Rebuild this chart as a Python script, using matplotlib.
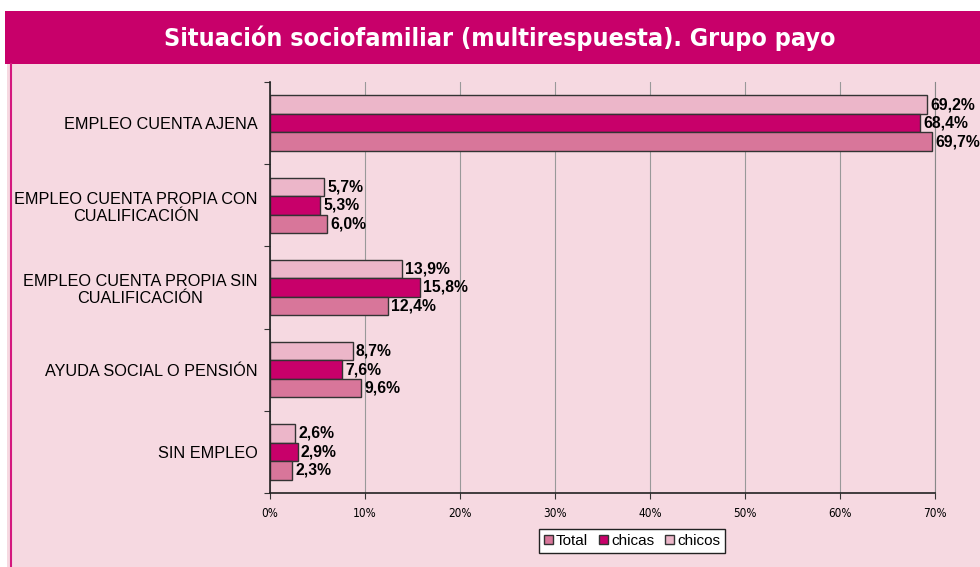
import numpy as np
import matplotlib.pyplot as plt
from matplotlib.patches import Rectangle

# datos
categorias = ['EMPLEO CUENTA AJENA',
              'EMPLEO CUENTA PROPIA CON\nCUALIFICACIÓN',
              'EMPLEO CUENTA PROPIA SIN\nCUALIFICACIÓN',
              'AYUDA SOCIAL O PENSIÓN',
              'SIN EMPLEO']
total = [69.7, 6.0, 12.4, 9.6, 2.3]
chicas = [68.4, 5.3, 15.8, 7.6, 2.9]
chicos = [69.2, 5.7, 13.9, 8.7, 2.6]

c_total = '#D8769A'
c_chicas = '#C8006A'
c_chicos = '#ECB6C9'
fondo = '#F6D9E1'

fig = plt.figure(figsize=(9.8, 5.67), dpi=100)
fig.patch.set_facecolor('white')

# fondo rosa y banda del titulo
fig.patches.append(Rectangle((0.007, 0), 0.993, 1 - 64/567, transform=fig.transFigure,
                             facecolor=fondo, edgecolor='none', zorder=-2))
fig.patches.append(Rectangle((0.005, 1 - 64/567), 0.995, 53/567, transform=fig.transFigure,
                             facecolor='#C8006A', edgecolor='none', zorder=-2))
fig.lines.append(plt.Line2D([0.011, 0.011], [0, 1 - 64/567], transform=fig.transFigure,
                            color='#D4187E', lw=1.5, zorder=-1))
fig.text(0.51, 1 - 38/567, 'Situación sociofamiliar (multirespuesta). Grupo payo',
         ha='center', va='center', color='white', fontsize=18, fontweight='bold',
         family='DejaVu Sans', fontstretch='condensed')

ax = fig.add_axes([270/980, 1 - 493/567, 665/980, 411/567])
ax.set_facecolor(fondo)

n = len(categorias)
y = np.arange(n)[::-1].astype(float)
h = 0.225
bars_chicos = ax.barh(y + h, chicos, h, color=c_chicos, edgecolor='#333333', lw=1, label='chicos')
bars_chicas = ax.barh(y, chicas, h, color=c_chicas, edgecolor='#333333', lw=1, label='chicas')
bars_total = ax.barh(y - h, total, h, color=c_total, edgecolor='#333333', lw=1, label='Total')

for bars, vals in [(bars_chicos, chicos), (bars_chicas, chicas), (bars_total, total)]:
    for b, v in zip(bars, vals):
        ax.text(v + 0.35, b.get_y() + b.get_height() / 2,
                f'{v:.1f}%'.replace('.', ','), va='center', ha='left',
                fontsize=11.3, fontweight='bold', family='Liberation Sans', clip_on=False)

ax.set_xlim(0, 70)
ax.set_ylim(-0.5, n - 0.5)
ax.set_xticks(np.arange(0, 71, 10))
ax.set_xticklabels([f'{t}%' for t in range(0, 71, 10)], family='DejaVu Sans',
                   fontstretch='condensed', fontsize=8.5)
ax.xaxis.grid(True, color='#999999', lw=0.8)
ax.set_axisbelow(True)

ax.set_yticks(np.arange(-0.5, n, 1.0))
ax.set_yticklabels([])
ax.set_yticks(y, minor=True)
ax.set_yticklabels(categorias, minor=True, fontsize=11.7, family='Liberation Sans',
                   multialignment='center')
ax.tick_params(axis='y', which='minor', length=0, pad=9)
ax.tick_params(axis='y', which='major', length=4, color='#333333')
ax.tick_params(axis='x', length=4, color='#333333', pad=6)

for s in ['left', 'bottom']:
    ax.spines[s].set_color('#222222')
    ax.spines[s].set_linewidth(1.2)
ax.spines['top'].set_visible(False)
ax.spines['right'].set_color('#888888')

handles = [bars_total, bars_chicas, bars_chicos]
leg = fig.legend(handles, ['Total', 'chicas', 'chicos'], loc='center',
                 bbox_to_anchor=(632/980, 1 - 541/567), ncol=3, frameon=True,
                 fancybox=False, edgecolor='#222222', framealpha=1,
                 prop={'family': 'Liberation Sans', 'size': 11},
                 handlelength=0.6, handleheight=0.6, handletextpad=0.2, columnspacing=0.7,
                 borderpad=0.3)

fig.savefig('out.png', dpi=100)
